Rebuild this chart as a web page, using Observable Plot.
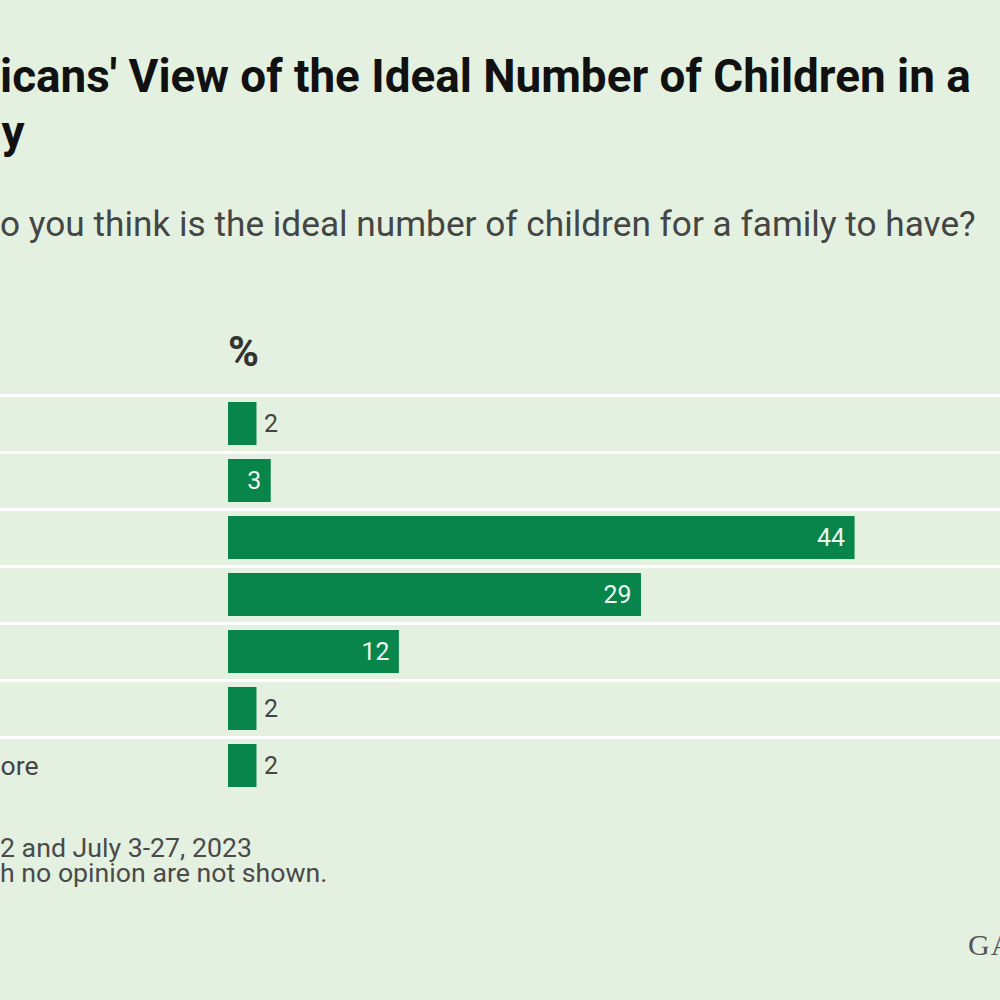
<!DOCTYPE html>
<html><head><meta charset="utf-8">
<script src="https://cdn.jsdelivr.net/npm/d3@7"></script>
<script src="https://cdn.jsdelivr.net/npm/@observablehq/plot@0.6"></script>
<style>
html,body{margin:0;padding:0;width:1000px;height:1000px;overflow:hidden;background:#e4f1e0;}
body{position:relative;font-family:Roboto,"Liberation Sans",Arial,sans-serif;}
.t{position:absolute;white-space:nowrap;margin:0;padding:0;}
#chart{position:absolute;}
</style></head><body>
<h1 id="title" class="t"></h1>
<div id="subtitle" class="t"></div>
<div id="unit" class="t"></div>
<div id="chart"></div>
<div id="note1" class="t"></div>
<div id="note2" class="t"></div>
<div id="brand" class="t"></div>
<script>
// ---- data ----
const titleLines = ["Americans' View of the Ideal Number of Children in a", "Family"];
const subtitle = "What do you think is the ideal number of children for a family to have?";
const unitLabel = "%";
const categories = ["Zero", "One", "Two", "Three", "Four", "Five", "Six or more"];
const values = [2, 3, 44, 29, 12, 2, 2];
const noteLines = ["May 1-22 and July 3-27, 2023", "Those with no opinion are not shown."];
const brand = "GALLUP";

const rows = categories.map((c, i) => ({category: c, value: values[i]}));

// ---- layout helpers ----
const SANS = 'Roboto, "Liberation Sans", Arial, sans-serif';
const ctx = document.createElement("canvas").getContext("2d");
function tw(text, font) { ctx.font = font; return ctx.measureText(text).width; }
function fit(visible, target, weight) { return 100 * target / tw(visible, `${weight} 100px ${SANS}`); }
function ascDesc(size, weight, family) {
  ctx.font = `${weight} ${size}px ${family}`;
  const m = ctx.measureText("Hg");
  return [m.fontBoundingBoxAscent ?? 0.93 * size, m.fontBoundingBoxDescent ?? 0.24 * size];
}
// place a (possibly multi-line) text block so that its first baseline sits at `baseline`
function place(el, lines, size, weight, left, baseline, lineH, color, family = SANS) {
  el.innerHTML = "";
  lines.forEach((s, i) => { if (i) el.appendChild(document.createElement("br")); el.appendChild(document.createTextNode(s)); });
  const [a, d] = ascDesc(size, weight, family);
  const off = (lineH - (a + d)) / 2 + a;
  Object.assign(el.style, {fontFamily: family, fontSize: size + "px", fontWeight: weight, lineHeight: lineH + "px",
    left: left + "px", top: (baseline - off) + "px", color});
}

// title (cropped on the left exactly as in the reference)
const tSize = fit("icans' View of the Ideal Number of Children in a", 971, "bold");
const tLeft = -tw("Amer", `bold ${tSize}px ${SANS}`);
place(document.getElementById("title"), titleLines, tSize, "bold", tLeft, 92, 56, "#111");

const sSize = fit("o you think is the ideal number of children for a family to have?", 976, "normal");
const sLeft = -tw("What d", `normal ${sSize}px ${SANS}`);
place(document.getElementById("subtitle"), [subtitle], sSize, "normal", sLeft, 236, sSize * 1.2, "#454545");

const uSize = fit("%", 31, "bold");
place(document.getElementById("unit"), [unitLabel], uSize, "bold", 228, 367, uSize * 1.2, "#333");

const nSize = fit("2 and July 3-27, 2023", 252, "normal");
const nFont = `normal ${nSize}px ${SANS}`;
place(document.getElementById("note1"), [noteLines[0]], nSize, "normal", -tw("May 1-2", nFont), 857, 22, "#4a4a4a");
place(document.getElementById("note2"), [noteLines[1]], nSize, "normal", -tw("Those wit", nFont), 882, 22, "#4a4a4a");

place(document.getElementById("brand"), [brand], 30, "normal", 968, 955, 34, "#555", '"Liberation Serif", serif');
document.getElementById("brand").style.letterSpacing = "1px";

// ---- chart ----
const OFF = 100;           // svg extends past the left edge of the page (labels are cropped there)
const svgTop = 330;
const mL = 228 + OFF, mR = 60, mT = 65, mB = 6;
const lblSize = fit("ore", 38, "normal");
const valSize = fit("44", 28, "normal");
const lblX = 38 - tw("Six or more", `normal ${lblSize}px ${SANS}`) + OFF;

const chart = Plot.plot({
  width: 1000 + OFF, height: 470,
  marginLeft: mL, marginRight: mR, marginTop: mT, marginBottom: mB,
  x: {domain: [0, 50], axis: null},
  y: {domain: categories, paddingInner: 0.246, paddingOuter: 0.123, axis: null},
  style: {background: "transparent", fontFamily: SANS, fontSize: valSize + "px", overflow: "visible"},
  marks: [
    Plot.ruleY(categories, {y: d => d, dy: -28.5, stroke: "#ffffff", strokeWidth: 3,
      insetLeft: -mL, insetRight: -mR}),
    Plot.barX(rows, {x: "value", y: "category", fill: "#07854a"}),
    Plot.text(rows.filter(d => d.value >= 3), {x: "value", y: "category", text: d => String(d.value),
      textAnchor: "end", dx: -10, fill: "#eef7f0"}),
    Plot.text(rows.filter(d => d.value < 3), {x: "value", y: "category", text: d => String(d.value),
      textAnchor: "start", dx: 7, fill: "#444"}),
    Plot.text(rows, {y: "category", text: "category", frameAnchor: "left", textAnchor: "start",
      dx: lblX - mL, fill: "#444", fontSize: lblSize})
  ]
});
const holder = document.getElementById("chart");
holder.style.left = (-OFF) + "px";
holder.style.top = svgTop + "px";
holder.appendChild(chart);
</script>
</body></html>
